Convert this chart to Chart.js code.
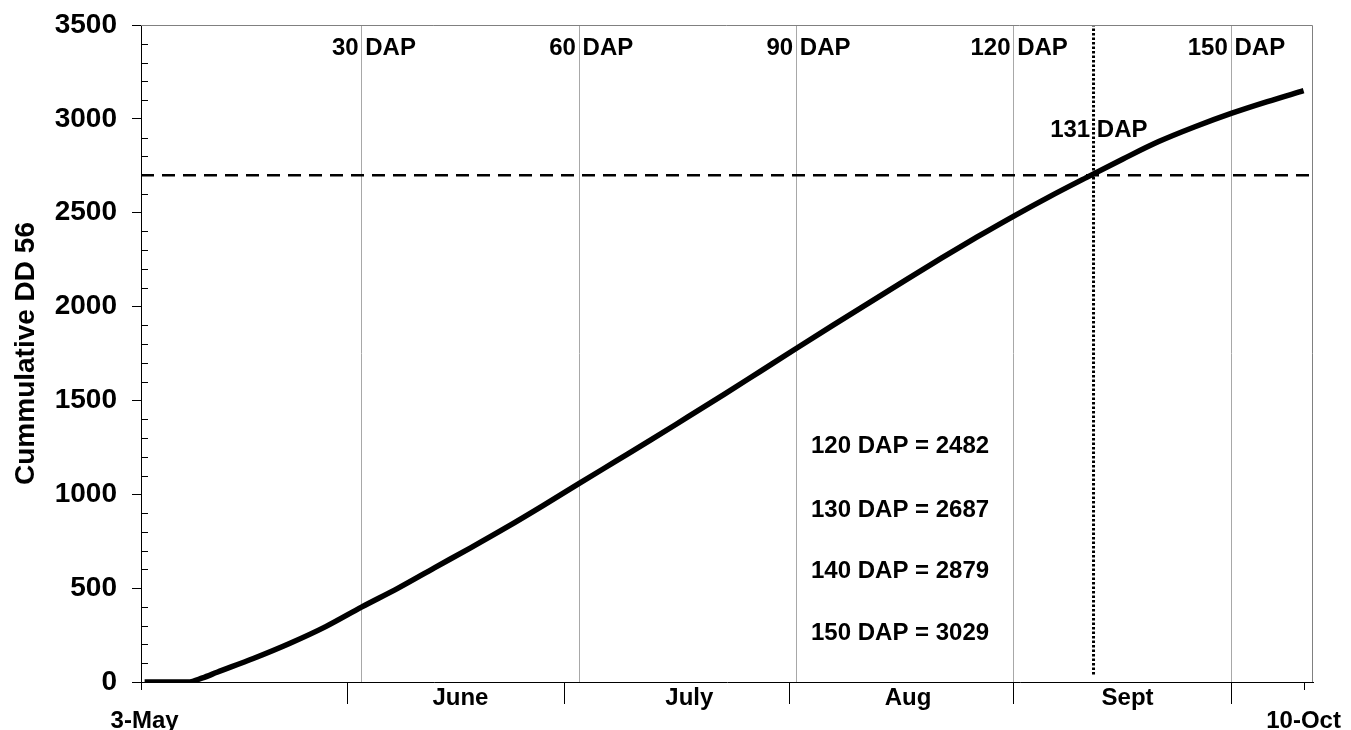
<!DOCTYPE html>
<html>
<head>
<meta charset="utf-8">
<script src="https://cdn.jsdelivr.net/npm/chart.js@4/dist/chart.umd.min.js"></script>
<style>
  html, body { margin: 0; padding: 0; background: #fff; }
  canvas { display: block; }
</style>
</head>
<body>
<canvas id="c" width="1351" height="730"></canvas>
<script>
const FONT = "'Liberation Sans', Arial, Helvetica, sans-serif";

// Days after planting (day 0 = 3-May) and cumulative degree-days, base 56
const dapDays = [0, 5, 6, 8, 10, 15, 20, 25, 30, 35, 40, 45, 50, 55, 60, 65, 70, 75, 80, 85,
                 90, 95, 100, 105, 110, 115, 120, 125, 130, 135, 140, 145, 150, 155, 160];
const cumDD   = [0, 0, 0, 22, 52, 125, 205, 295, 400, 500, 608, 715, 825, 940, 1058, 1175, 1292, 1412, 1532, 1655,
                 1778, 1900, 2020, 2140, 2258, 2372, 2482, 2587, 2687, 2785, 2879, 2958, 3029, 3092, 3150];

// Reference marks
const dapMarks = [30, 60, 90, 120, 150];
const monthEnds = [28, 58, 89, 120, 150];
const monthNames = ['June', 'July', 'Aug', 'Sept'];
const monthCenters = [43.6, 75.2, 105.4, 135.7];
const endLabels = ['3-May', '10-Oct'];
const endDays = [0, 160];
const thresholdDD = 2700;
const thresholdDay = 131;
const summaryDays = [120, 130, 140, 150];
const summaryRowsDD = [1218, 880, 554, 224];   // baseline of each summary row, in DD units
const summaryLeftDay = 92;
const dapLabelDD = 3340;
const thresholdLabelDD = 2903;

const yMin = 0, yMax = 3500, yStep = 500, yMinorStep = 100;
const xMin = -0.5, xMax = 161.3;

const ddAt = d => cumDD[dapDays.indexOf(d)];
const seriesPts = dapDays.map((d, i) => ({ x: d, y: cumDD[i] }));

const decor = {
  id: 'decor',
  afterDraw(chart) {
    const { ctx, chartArea: a, scales: { x, y } } = chart;
    ctx.save();

    // frame on top and right
    ctx.strokeStyle = '#808080';
    ctx.lineWidth = 1;
    const t = Math.round(a.top) + 0.5, r = Math.round(a.right) - 0.5;
    ctx.beginPath();
    ctx.moveTo(a.left, t);
    ctx.lineTo(r, t);
    ctx.lineTo(r, a.bottom);
    ctx.stroke();

    // minor y ticks, inside the plot
    ctx.strokeStyle = '#000';
    ctx.beginPath();
    for (let v = yMin + yMinorStep; v < yMax; v += yMinorStep) {
      if (v % yStep === 0) continue;
      const py = Math.round(y.getPixelForValue(v)) + 0.5;
      ctx.moveTo(a.left, py);
      ctx.lineTo(a.left + 7, py);
    }
    // short ticks at the axis start and at the last date
    const lx = Math.round(a.left) + 0.5;
    ctx.moveTo(lx, a.bottom);
    ctx.lineTo(lx, a.bottom + 8);
    const ex = Math.round(x.getPixelForValue(endDays[1])) + 0.5;
    ctx.moveTo(ex, a.bottom);
    ctx.lineTo(ex, a.bottom + 8);
    ctx.stroke();

    ctx.fillStyle = '#000';
    ctx.font = 'bold 24px ' + FONT;
    ctx.textBaseline = 'alphabetic';

    // month names under the axis
    ctx.textAlign = 'center';
    monthNames.forEach((m, i) => ctx.fillText(m, x.getPixelForValue(monthCenters[i]), a.bottom + 23));
    endLabels.forEach((m, i) => ctx.fillText(m, x.getPixelForValue(endDays[i]), a.bottom + 46));

    // DAP labels split around their reference lines
    ctx.textAlign = 'left';
    const spaceW = ctx.measureText(' ').width;
    const splitLabel = (day, dd) => {
      const num = String(day);
      const px = x.getPixelForValue(day) - ctx.measureText(num).width - spaceW / 2;
      ctx.fillText(num + ' DAP', px, y.getPixelForValue(dd));
    };
    dapMarks.forEach(d => splitLabel(d, dapLabelDD));
    splitLabel(thresholdDay, thresholdLabelDD);

    // summary rows
    summaryDays.forEach((d, i) => {
      ctx.fillText(d + ' DAP = ' + ddAt(d), x.getPixelForValue(summaryLeftDay), y.getPixelForValue(summaryRowsDD[i]));
    });

    ctx.restore();
  }
};

new Chart(document.getElementById('c'), {
  type: 'line',
  data: {
    datasets: [
      {
        label: 'Cumulative DD 56',
        data: seriesPts,
        borderColor: '#000',
        borderWidth: 5.5,
        pointRadius: 0,
        cubicInterpolationMode: 'monotone',
        borderJoinStyle: 'round',
        fill: false
      },
      {
        label: 'threshold',
        data: [{ x: xMin, y: thresholdDD }, { x: xMax, y: thresholdDD }],
        borderColor: '#000',
        borderWidth: 2.5,
        borderDash: [13, 8],
        pointRadius: 0,
        fill: false
      },
      {
        label: 'threshold day',
        data: [{ x: thresholdDay, y: 40 }, { x: thresholdDay, y: yMax }],
        borderColor: '#000',
        borderWidth: 3,
        borderDash: [2.5, 2],
        pointRadius: 0,
        fill: false
      }
    ]
  },
  options: {
    responsive: false,
    animation: false,
    devicePixelRatio: 1,
    layout: { padding: { top: 25, right: 38, left: 0, bottom: 0 } },
    plugins: { legend: { display: false }, tooltip: { enabled: false } },
    scales: {
      x: {
        type: 'linear',
        min: xMin,
        max: xMax,
        afterBuildTicks: s => {
          const vals = [...new Set([...monthEnds, ...dapMarks])].sort((p, q) => p - q);
          s.ticks = vals.map(v => ({ value: v }));
        },
        afterFit: s => {
          s.height = 48;
          s.paddingLeft = 0; s.paddingRight = 0;
        },
        ticks: { display: false },
        grid: {
          drawOnChartArea: true,
          drawTicks: true,
          tickLength: 22,
          lineWidth: 1,
          tickWidth: 1,
          color: c => (c.tick && dapMarks.includes(c.tick.value)) ? '#a8a8a8' : 'rgba(0,0,0,0)',
          tickColor: c => (c.tick && monthEnds.includes(c.tick.value)) ? '#000' : 'rgba(0,0,0,0)'
        },
        border: { display: true, color: '#000', width: 1 }
      },
      y: {
        min: yMin,
        max: yMax,
        afterFit: s => {
          s.width = 141;
          s.paddingTop = 0; s.paddingBottom = 0;
        },
        ticks: {
          stepSize: yStep,
          color: '#000',
          font: { family: FONT, size: 28, weight: 'bold' },
          padding: 15,
          callback: v => String(v)
        },
        grid: {
          drawOnChartArea: false,
          drawTicks: true,
          tickLength: 9,
          tickColor: '#000',
          tickWidth: 1
        },
        border: { display: true, color: '#000', width: 1 },
        title: {
          display: true,
          text: 'Cummulative DD 56',
          color: '#000',
          font: { family: FONT, size: 28, weight: 'bold' },
          padding: { top: 9, bottom: 0 }
        }
      }
    }
  },
  plugins: [decor]
});
</script>
</body>
</html>
